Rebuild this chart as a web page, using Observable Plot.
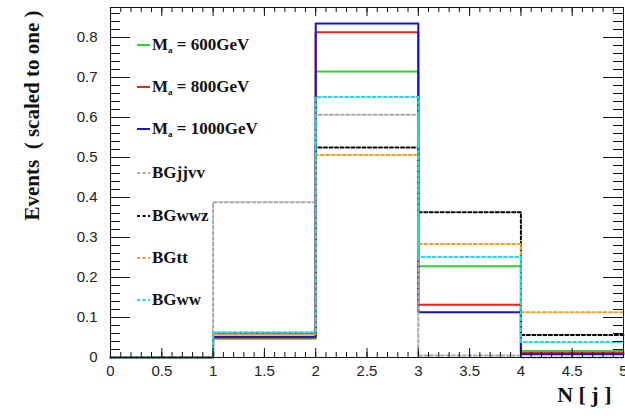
<!DOCTYPE html>
<html>
<head>
<meta charset="utf-8">
<script src="https://cdn.jsdelivr.net/npm/d3@7"></script>
<script src="https://cdn.jsdelivr.net/npm/@observablehq/plot@0.6"></script>
<style>
  html, body { margin: 0; padding: 0; background: #fff; }
  #wrap { position: relative; width: 625px; height: 416px; overflow: hidden; }
  #legend { position: absolute; left: 0; top: 0; }
  .entry { position: absolute; left: 137px; height: 20px; display: flex; align-items: center;
           font-family: "Liberation Serif", "Times New Roman", serif; font-weight: bold; font-size: 17px; color: #111; white-space: nowrap; }
  .entry svg { margin-right: 2px; }
  .entry sub { font-size: 9px; vertical-align: -3px; }
</style>
</head>
<body>
<div id="wrap"><div id="legend"></div></div>
<script>
// ---- data ----
const binEdges = [0, 1, 2, 3, 4, 5];
const seriesNames = ["M600", "M800", "M1000", "BGjjvv", "BGwwz", "BGtt", "BGww"];
const legendLabels = ["M_a = 600GeV", "M_a = 800GeV", "M_a = 1000GeV", "BGjjvv", "BGwwz", "BGtt", "BGww"];
const m600   = [0, 0.047, 0.715, 0.228, 0.016];
const m800   = [0, 0.050, 0.813, 0.132, 0.011];
const m1000  = [0, 0.052, 0.835, 0.113, 0.008];
const bgJjvv = [0, 0.388, 0.607, 0.005, 0];
const bgWwz  = [0, 0.060, 0.525, 0.363, 0.056];
const bgTt   = [0, 0.058, 0.506, 0.284, 0.113];
const bgWw   = [0, 0.063, 0.651, 0.251, 0.039];
const yTicks = [0, 0.1, 0.2, 0.3, 0.4, 0.5, 0.6, 0.7, 0.8];
const xTicks = [0, 0.5, 1, 1.5, 2, 2.5, 3, 3.5, 4, 4.5, 5];
const xTitle = "N [ j ]";
const yTitle = "Events  ( scaled to one )";

// ---- styles ----
const colors = ["#2fd22f", "#ee2020", "#1515c8", "#a8a8a8", "#000000", "#f2a127", "#22dbe8"];
const dashed = [false, false, false, true, true, true, true];

const values = [m600, m800, m1000, bgJjvv, bgWwz, bgTt, bgWw];
const W = 625, H = 416, mL = 110, mR = 2, mT = 7, mB = 59;
const xDom = [0, 5], yDom = [0, 0.875];
const pxX = (xDom[1] - xDom[0]) / (W - mL - mR);
const pxY = (yDom[1] - yDom[0]) / (H - mT - mB);

function stepData(vals, name) {
  return binEdges.map((x, i) => ({x, y: vals[Math.min(i, vals.length - 1)], series: name}));
}

const lineMarks = values.map((vals, k) =>
  Plot.line(stepData(vals, seriesNames[k]), {
    x: "x", y: "y", curve: "step-after",
    stroke: colors[k], strokeWidth: 2,
    strokeDasharray: dashed[k] ? "3,2.5" : null
  })
);

// minor ticks
const yMinor = d3.range(0, 0.8751, 0.02).map(v => +v.toFixed(3));
const xMinor = d3.range(0, 5.0001, 0.1).map(v => +v.toFixed(2));

const tickMarks = [
  Plot.ruleY(yTicks, {x1: xDom[0], x2: xDom[0] + 20 * pxX, stroke: "#111"}),
  Plot.ruleY(yMinor, {x1: xDom[0], x2: xDom[0] + 10 * pxX, stroke: "#111"}),
  Plot.ruleY(yTicks, {x1: xDom[1], x2: xDom[1] - 20 * pxX, stroke: "#111"}),
  Plot.ruleY(yMinor, {x1: xDom[1], x2: xDom[1] - 10 * pxX, stroke: "#111"}),
  Plot.ruleX(xTicks, {y1: yDom[0], y2: yDom[0] + 9 * pxY, stroke: "#111"}),
  Plot.ruleX(xMinor, {y1: yDom[0], y2: yDom[0] + 5 * pxY, stroke: "#111"}),
  Plot.ruleX(xTicks, {y1: yDom[1], y2: yDom[1] - 9 * pxY, stroke: "#111"}),
  Plot.ruleX(xMinor, {y1: yDom[1], y2: yDom[1] - 5 * pxY, stroke: "#111"})
];

const chart = Plot.plot({
  width: W, height: H,
  marginLeft: mL, marginRight: mR, marginTop: mT, marginBottom: mB,
  style: {fontFamily: "'Liberation Sans', Arial, sans-serif", fontSize: "15px", color: "#222", background: "#fff"},
  x: {domain: xDom},
  y: {domain: yDom},
  marks: [
    ...lineMarks,
    ...tickMarks,
    Plot.frame({stroke: "#111", strokeWidth: 1}),
    Plot.axisX({ticks: xTicks, tickSize: 0, tickPadding: 8, label: null, tickFormat: d => String(d), fontSize: 15}),
    Plot.axisY({ticks: yTicks, tickSize: 0, tickPadding: 13, label: null, tickFormat: d => d === 0 ? "0" : d.toFixed(1), fontSize: 15}),
    Plot.text([yTitle], {text: d => d, frameAnchor: "top-left", rotate: -90, textAnchor: "end",
      dx: -86, dy: 3, fontFamily: "'Liberation Serif', 'Times New Roman', serif", fontWeight: "bold", fontSize: 21, fill: "#111"}),
    Plot.text([xTitle], {text: d => d, frameAnchor: "bottom-right", textAnchor: "end",
      dx: -12, dy: 44, fontFamily: "'Liberation Serif', 'Times New Roman', serif", fontWeight: "bold", fontSize: 22, fill: "#111"})
  ]
});
document.getElementById("wrap").prepend(chart);

// ---- legend ----
const legendY = [45, 87, 129, 173, 216, 258, 300];
const leg = document.getElementById("legend");
legendLabels.forEach((lab, k) => {
  const e = document.createElement("div");
  e.className = "entry";
  e.style.top = (legendY[k] - 10) + "px";
  const dash = dashed[k] ? 'stroke-dasharray="3,2.5"' : "";
  const html = lab.startsWith("M_a") ? "M<sub>a</sub>" + lab.slice(3) : lab;
  e.innerHTML = `<svg width="13" height="4"><line x1="0" y1="2" x2="13" y2="2" stroke="${colors[k]}" stroke-width="2" ${dash}/></svg><span>${html}</span>`;
  leg.appendChild(e);
});
</script>
</body>
</html>
